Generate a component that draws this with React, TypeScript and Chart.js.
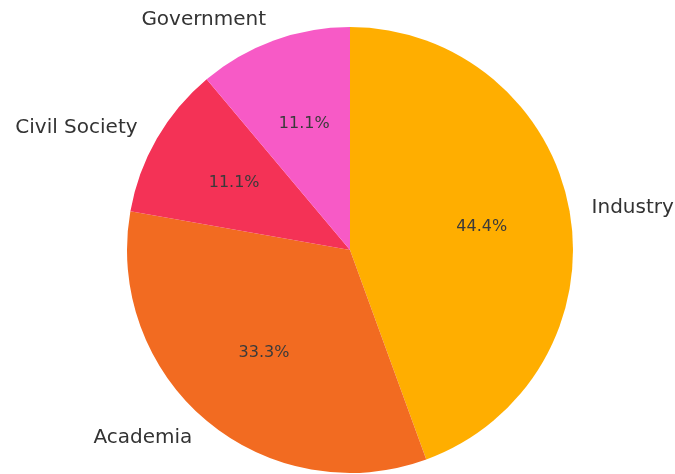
import React, { useEffect, useRef } from "react";
import { Chart, registerables } from "chart.js";

Chart.register(...registerables);

const categories = ["Industry", "Academia", "Civil Society", "Government"];
const values = [44.4, 33.3, 11.1, 11.1];
const colors = ["#FFAE00", "#F26B21", "#F43256", "#F75AC6"];

const labelPlugin = {
  id: "pieLabels",
  afterDraw(chart: any) {
    const ctx = chart.ctx;
    const meta = chart.getDatasetMeta(0);
    const total = values.reduce((a, b) => a + b, 0);
    ctx.save();
    meta.data.forEach((arc: any, i: number) => {
      const { x, y, startAngle, endAngle, outerRadius } = arc.getProps(
        ["x", "y", "startAngle", "endAngle", "outerRadius"],
        true
      );
      const mid = (startAngle + endAngle) / 2;
      const cx = Math.cos(mid);
      const cy = Math.sin(mid);
      // outer label
      ctx.font = "20px 'DejaVu Sans'";
      ctx.fillStyle = "#333333";
      ctx.textBaseline = "middle";
      ctx.textAlign = cx > 0 ? "left" : "right";
      ctx.fillText(categories[i], x + cx * outerRadius * 1.1, y + cy * outerRadius * 1.1);
      // percent label
      ctx.font = "16px 'DejaVu Sans'";
      ctx.fillStyle = "#3a3a3a";
      ctx.textAlign = "center";
      const pct = ((values[i] / total) * 100).toFixed(1) + "%";
      ctx.fillText(pct, x + cx * outerRadius * 0.6, y + cy * outerRadius * 0.6);
    });
    ctx.restore();
  },
};

export default function App() {
  const ref = useRef<HTMLCanvasElement | null>(null);
  useEffect(() => {
    document.body.style.margin = "0";
    const chart = new Chart(ref.current as HTMLCanvasElement, {
      type: "pie",
      data: {
        labels: categories,
        datasets: [
          {
            data: values,
            backgroundColor: colors,
            borderWidth: 0,
          },
        ],
      },
      options: {
        responsive: false,
        animation: false,
        layout: { padding: { top: 27, bottom: 1, left: 127, right: 102 } },
        plugins: {
          legend: { display: false },
          tooltip: { enabled: false },
        },
      },
      plugins: [labelPlugin],
    });
    return () => chart.destroy();
  }, []);
  return (
    <div style={{ width: 675, height: 474, background: "#fff" }}>
      <canvas ref={ref} width={675} height={474} style={{ display: "block" }} />
    </div>
  );
}
